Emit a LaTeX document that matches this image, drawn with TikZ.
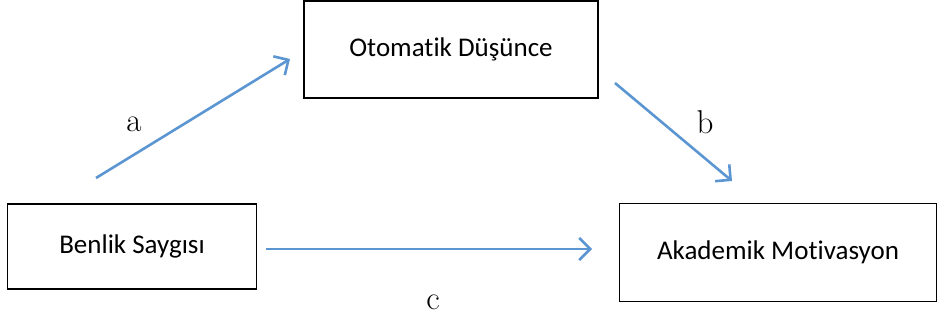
\documentclass[tikz,border=0pt]{standalone}
\usepackage{fontspec}
\setmainfont{Carlito}[Ligatures={NoCommon,NoRequired,NoContextual}]
\usetikzlibrary{arrows.meta}
\definecolor{arrowblue}{RGB}{91,150,210}
\tikzset{
  box/.style={draw=black, line width=1.8pt, inner sep=0pt, font=\fontsize{27}{32}\selectfont},
  conn/.style={draw=arrowblue, line width=2.6pt, -{Straight Barb[length=11pt,width=22pt,line width=2.6pt]}},
  lbl/.style={font=\fontfamily{lmr}\fontsize{33}{36}\selectfont, inner sep=0pt}
}
\begin{document}
\begin{tikzpicture}[x=1pt,y=-1pt]
\useasboundingbox (0,0) rectangle (939,320);
\node[box, minimum width=294pt, minimum height=97pt] (od) at (451,49.5) {Otomatik Düşünce};
\node[box, minimum width=249pt, minimum height=85pt] (bs) at (132,246.5) {Benlik Saygısı};
\node[box, minimum width=317pt, minimum height=98pt] (am) at (778,252.5) {Akademik Motivasyon};
\coordinate (a1) at (96,178);
\coordinate (a2) at (290,59);
\coordinate (b1) at (615,83);
\coordinate (b2) at (732,181);
\coordinate (c1) at (266,249);
\coordinate (c2) at (592,249);
\draw[conn] (a1) -- (a2);
\draw[conn] (b1) -- (b2);
\draw[conn] (c1) -- (c2);
\node[lbl] (la) at (134,124) {a};
\node[lbl] (lb) at (705,122) {b};
\node[lbl] (lc) at (433,302) {c};
\end{tikzpicture}
\end{document}
